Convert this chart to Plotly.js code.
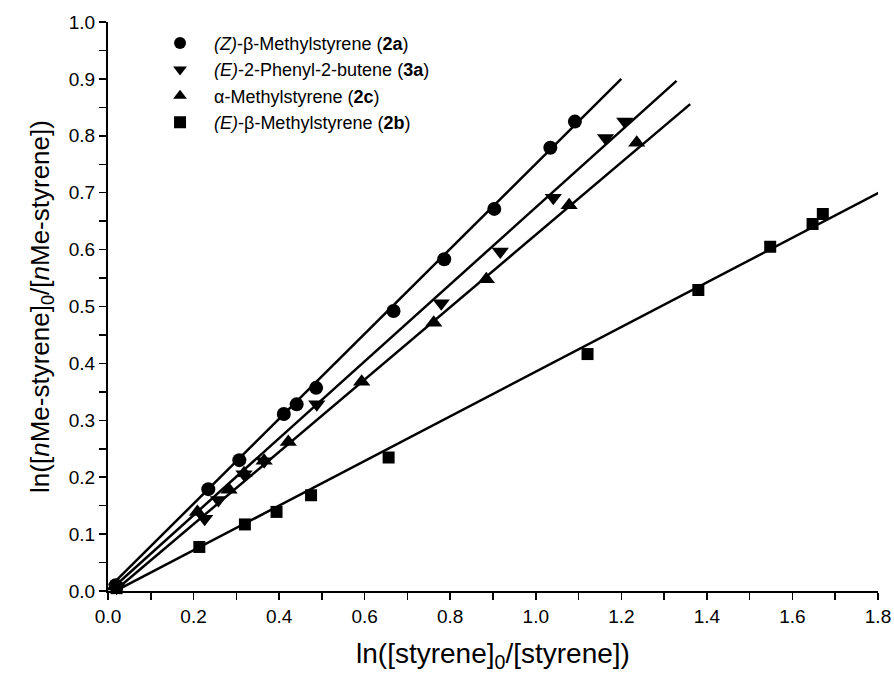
<!DOCTYPE html>
<html>
<head>
<meta charset="utf-8">
<script src="https://cdn.plot.ly/plotly-3.0.1.min.js"></script>
<style>html,body{margin:0;padding:0;background:#fff;}</style>
</head>
<body>
<div id="chart" style="width:894px;height:679px;"></div>
<script>
// (Z)-beta-Methylstyrene (2a) - circles
const x2a = [0.018, 0.2345, 0.307, 0.411, 0.441, 0.4865, 0.6675, 0.786, 0.903, 1.034, 1.0914];
const y2a = [0.010, 0.179, 0.230, 0.311, 0.328, 0.357, 0.492, 0.583, 0.6715, 0.779, 0.825];
// (E)-2-Phenyl-2-butene (3a) - down triangles
const x3a = [0.02, 0.226, 0.258, 0.318, 0.365, 0.488, 0.779, 0.917, 1.041, 1.163, 1.208];
const y3a = [0.006, 0.127, 0.160, 0.205, 0.228, 0.328, 0.5055, 0.5965, 0.691, 0.796, 0.825];
// alpha-Methylstyrene (2c) - up triangles
const x2c = [0.016, 0.209, 0.283, 0.318, 0.365, 0.4215, 0.593, 0.7615, 0.8845, 1.078, 1.236];
const y2c = [0.008, 0.139, 0.178, 0.207, 0.229, 0.262, 0.3676, 0.4714, 0.548, 0.678, 0.788];
// (E)-beta-Methylstyrene (2b) - squares
const x2b = [0.02, 0.2135, 0.320, 0.394, 0.4747, 0.656, 1.121, 1.380, 1.548, 1.647, 1.671];
const y2b = [0.005, 0.0774, 0.117, 0.139, 0.1683, 0.2346, 0.4164, 0.529, 0.605, 0.645, 0.6626];

// Fitted line end points
const fit2aX = [0.02, 1.2],   fit2aY = [0.019, 0.900];
const fit3aX = [0.02, 1.329], fit3aY = [0.0115, 0.8966];
const fit2cX = [0.02, 1.361], fit2cY = [0.003, 0.8556];
const fit2bX = [0.02, 1.802], fit2bY = [0.001, 0.700];

const names = [
  "<i>(Z)</i>-β-Methylstyrene (<b>2a</b>)",
  "<i>(E)</i>-2-Phenyl-2-butene (<b>3a</b>)",
  "α-Methylstyrene (<b>2c</b>)",
  "<i>(E)</i>-β-Methylstyrene (<b>2b</b>)"
];

const FONT = "Liberation Sans, Arial, sans-serif";
const lineStyle = {color: "#000", width: 2.5};

function fit(x, y) {
  return {x: x, y: y, mode: "lines", line: lineStyle, showlegend: false, hoverinfo: "skip", cliponaxis: false};
}
function pts(x, y, name, symbol, size) {
  return {x: x, y: y, mode: "markers", name: name, cliponaxis: false,
          marker: {symbol: symbol, size: size, color: "#000", line: {width: 0}}};
}

const data = [
  fit(fit2aX, fit2aY), fit(fit3aX, fit3aY), fit(fit2cX, fit2cY), fit(fit2bX, fit2bY),
  pts(x2a, y2a, names[0], "circle", 14),
  pts(x3a, y3a, names[1], "triangle-down", 15),
  pts(x2c, y2c, names[2], "triangle-up", 15),
  pts(x2b, y2b, names[3], "square", 12)
];

const axisCommon = {
  showgrid: false, zeroline: false, showline: true, linecolor: "#000", linewidth: 2,
  ticks: "outside", ticklen: 7, tickwidth: 1.5, tickcolor: "#000",
  tickfont: {family: FONT, size: 19, color: "#000"},
  tickformat: ".1f"
};

const layout = {
  width: 894, height: 679,
  margin: {l: 108, r: 16, t: 22, b: 88},
  paper_bgcolor: "#fff", plot_bgcolor: "#fff",
  font: {family: FONT, color: "#000"},
  xaxis: Object.assign({}, axisCommon, {
    range: [0, 1.8], dtick: 0.2, tick0: 0,
    minor: {dtick: 0.1, ticks: "outside", ticklen: 7, tickwidth: 1.5, tickcolor: "#000"},
    title: {text: "ln([styrene]<sub>0</sub>/[styrene])", font: {family: FONT, size: 28, color: "#000"}, standoff: 18}
  }),
  yaxis: Object.assign({}, axisCommon, {
    range: [0, 1.0], dtick: 0.1, tick0: 0,
    minor: {dtick: 0.05, ticks: "outside", ticklen: 7, tickwidth: 1.5, tickcolor: "#000"},
    title: {text: "ln([<i>n</i>Me-styrene]<sub>0</sub>/[<i>n</i>Me-styrene])", font: {family: FONT, size: 26, color: "#000"}, standoff: 12}
  }),
  legend: {
    x: 0.0494, y: 0.995, xanchor: "left", yanchor: "top",
    bgcolor: "rgba(0,0,0,0)", borderwidth: 0,
    font: {family: FONT, size: 18, color: "#000"},
    itemsizing: "constant", itemwidth: 58
  },
  showlegend: true
};

Plotly.newPlot("chart", data, layout, {displayModeBar: false, staticPlot: true});
</script>
</body>
</html>
